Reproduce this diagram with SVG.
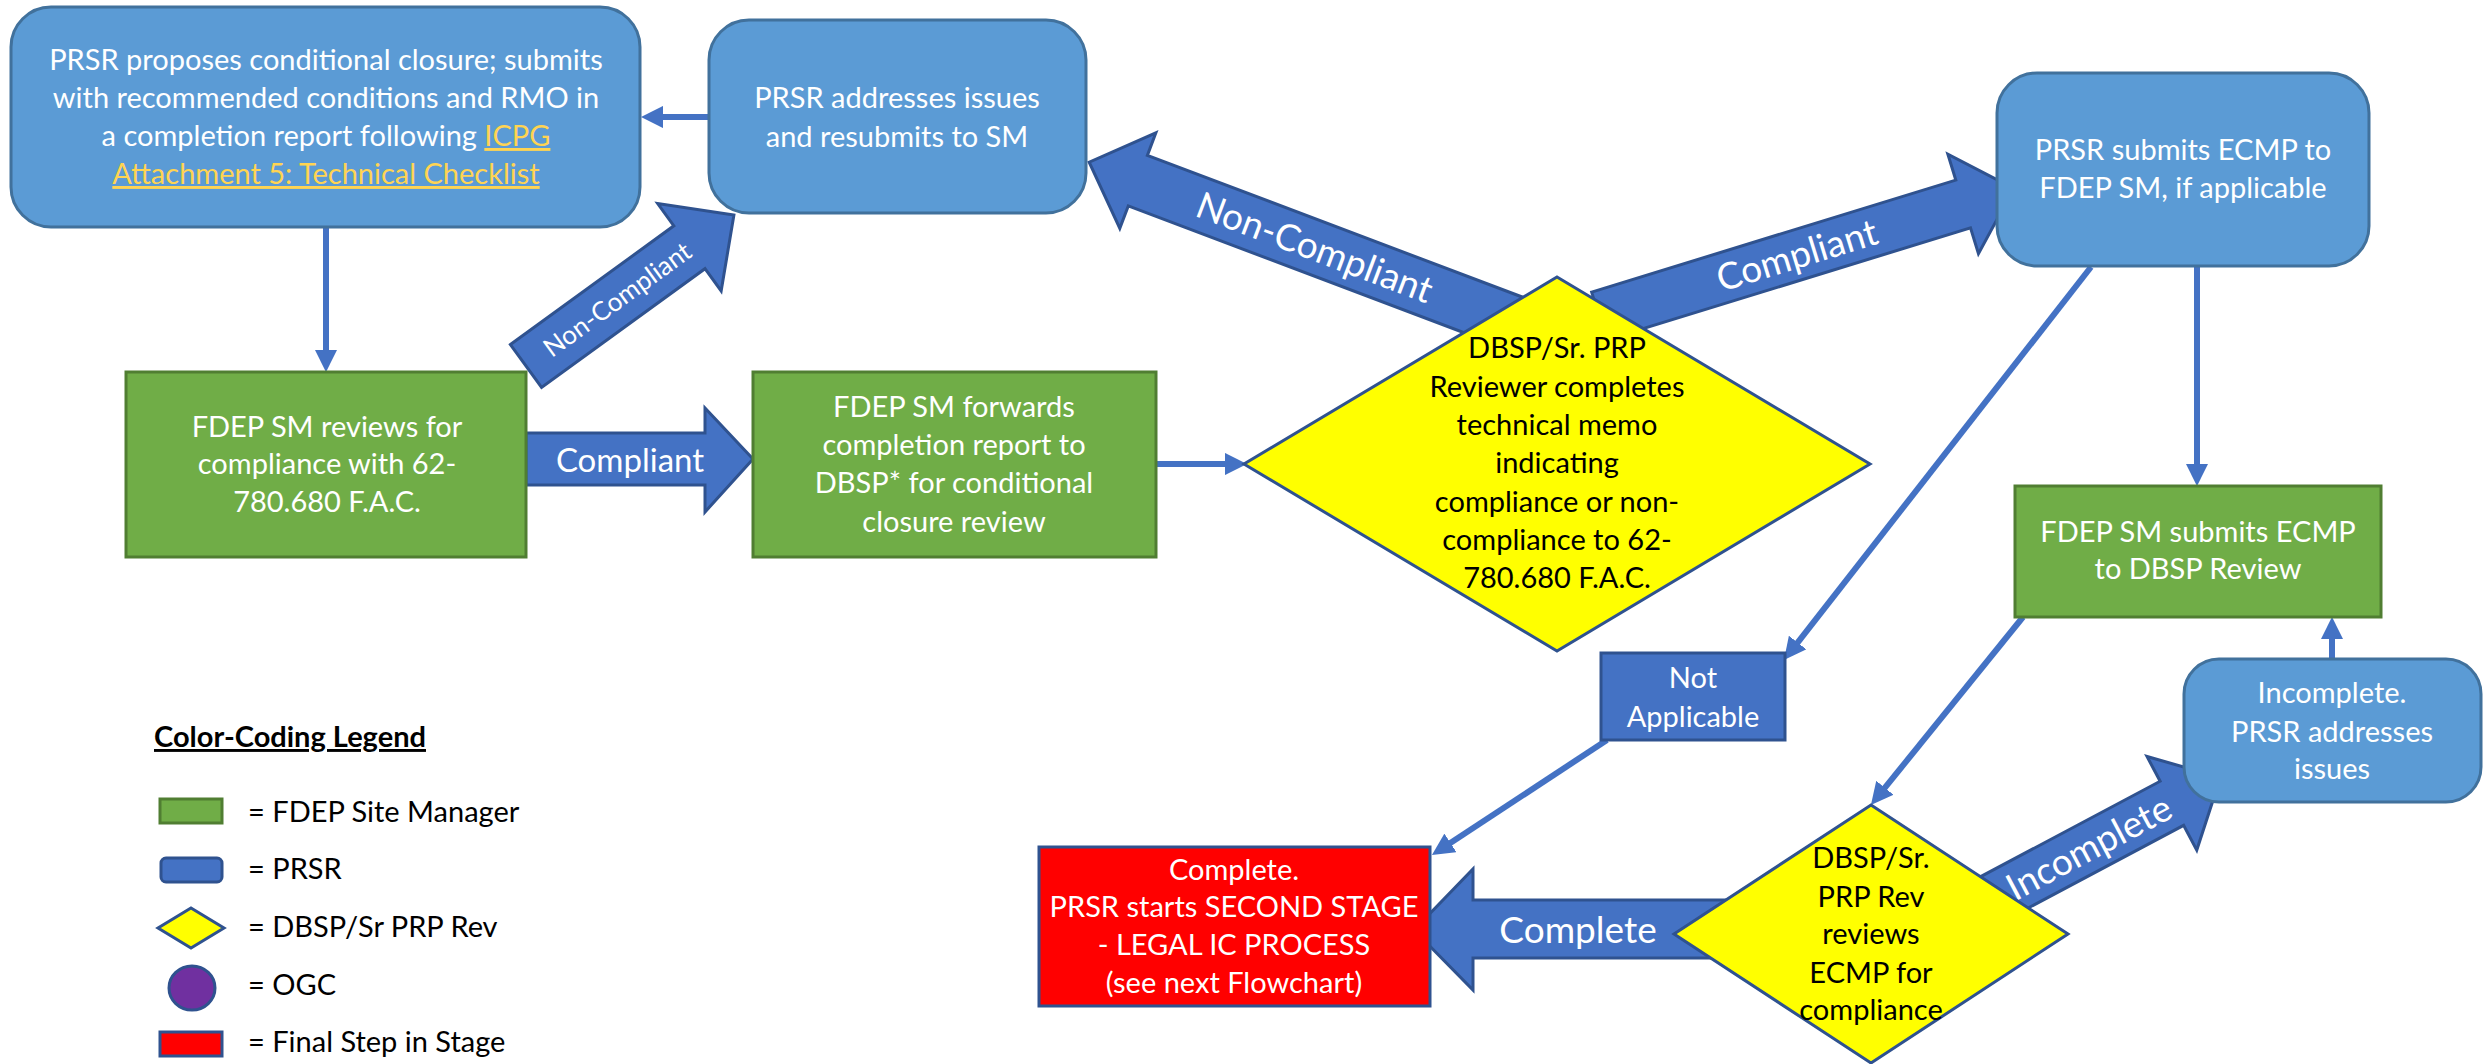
<svg xmlns="http://www.w3.org/2000/svg" width="2484" height="1064" viewBox="0 0 2484 1064">
<style>
.lb{fill:#5B9BD5;stroke:#41719C;stroke-width:3}
.gr{fill:#70AD47;stroke:#507E32;stroke-width:3}
.db{fill:#4472C4;stroke:#2F528F;stroke-width:3}
.ye{fill:#FFFF00;stroke:#2F528F;stroke-width:3}
.rd{fill:#FF0000;stroke:#2F528F;stroke-width:3}
.pu{fill:#7030A0;stroke:#2F528F;stroke-width:3}
.ln{fill:none;stroke:#4472C4;stroke-width:6;marker-end:url(#ah)}
text{font-family:Lato,"Open Sans","Liberation Sans",sans-serif;font-size:29px}
.w{fill:#FFFFFF;text-anchor:middle}
.k{fill:#000000;text-anchor:middle}
.lk{fill:#FFD452;text-decoration:underline}
.lbl{fill:#FFFFFF;text-anchor:middle}
.lg{fill:#000000}
</style>
<defs>
<marker id="ah" viewBox="0 0 10 10" markerWidth="3.7" markerHeight="3.7" refX="5" refY="5" orient="auto" markerUnits="strokeWidth">
<path d="M0,0 L10,5 L0,10 Z" fill="#4472C4"/>
</marker>
</defs>

<g id="connectors">
<path class="ln" d="M709,117 L652,117"/>
<path class="ln" d="M326,227 L326,361"/>
<path class="ln" d="M1156,464 L1236,464"/>
<path class="ln" d="M2091,267 L1790.8,651.3"/>
<path class="ln" d="M2197,266 L2197,475"/>
<path class="ln" d="M1607,740 L1441.2,849"/>
<path class="ln" d="M2023,617 L1877.9,796.4"/>
<path class="ln" d="M2332,659 L2332,628"/>
<g id="arrow-nc-small" transform="translate(526,366) rotate(-36)">
<polygon class="db" points="0,-26.5 202,-26.5 202,-54 257,0 202,54 202,26.5 0,26.5"/>
<text class="lbl" x="113" y="9" style="font-size:26px">Non-Compliant</text>
</g>
<g id="arrow-nc-big" transform="translate(1512,322) rotate(20.7)">
<polygon class="db" points="0,-27 -400,-27 -400,-51 -452,0 -400,51 -400,27 0,27"/>
<text class="lbl" x="-211" y="13" style="font-size:37px">Non-Compliant</text>
</g>
<g id="arrow-c-top" transform="translate(1599,316) rotate(-17.1)">
<polygon class="db" points="0,-25 381,-25 381,-52 434,0 381,52 381,25 0,25"/>
<text class="lbl" x="207" y="13" style="font-size:37px">Compliant</text>
</g>
<g id="arrow-c-mid">
<polygon class="db" points="526,433 705,433 705,408 753,459 705,512 705,485 526,485"/>
<text class="lbl" x="630" y="472" style="font-size:33px">Compliant</text>
</g>
<g id="arrow-complete">
<polygon class="db" points="1740,900 1473,900 1473,869 1414,930 1473,990 1473,958 1740,958"/>
<text class="lbl" x="1578" y="943" style="font-size:37px">Complete</text>
</g>
<g id="arrow-incomplete" transform="translate(1990,900) rotate(-28)">
<polygon class="db" points="0,-25 206,-25 206,-53 261,0 206,53 206,25 0,25"/>
<text class="lbl" x="112" y="13" style="font-size:37px">Incomplete</text>
</g>
</g>

<g id="box1">
<rect class="lb" x="11" y="7" width="629" height="220" rx="40"/>
<text class="w"><tspan x="326" y="70">PRSR proposes conditional closure; submits</tspan><tspan x="326" y="108">with recommended conditions and RMO in</tspan><tspan x="326" y="146">a completion report following <tspan class="lk">ICPG</tspan></tspan><tspan x="326" y="184" class="lk">Attachment 5: Technical Checklist</tspan></text>
</g>
<g id="box2">
<rect class="lb" x="709" y="20" width="377" height="193" rx="40"/>
<text class="w"><tspan x="897" y="108">PRSR addresses issues</tspan><tspan x="897" y="147">and resubmits to SM</tspan></text>
</g>
<g id="box3">
<rect class="lb" x="1997" y="73" width="372" height="193" rx="40"/>
<text class="w"><tspan x="2183" y="160">PRSR submits ECMP to</tspan><tspan x="2183" y="198">FDEP SM, if applicable</tspan></text>
</g>
<g id="green1">
<rect class="gr" x="126" y="372" width="400" height="185"/>
<text class="w"><tspan x="327" y="437">FDEP SM reviews for</tspan><tspan x="327" y="474">compliance with 62-</tspan><tspan x="327" y="512">780.680 F.A.C.</tspan></text>
</g>
<g id="green2">
<rect class="gr" x="753" y="372" width="403" height="185"/>
<text class="w"><tspan x="954" y="417">FDEP SM forwards</tspan><tspan x="954" y="455">completion report to</tspan><tspan x="954" y="493">DBSP* for conditional</tspan><tspan x="954" y="532">closure review</tspan></text>
</g>
<g id="diamond1">
<polygon class="ye" points="1557,277 1870,464 1557,651 1244,464"/>
<text class="k"><tspan x="1557" y="358">DBSP/Sr. PRP</tspan><tspan x="1557" y="397">Reviewer completes</tspan><tspan x="1557" y="435">technical memo</tspan><tspan x="1557" y="473">indicating</tspan><tspan x="1557" y="512">compliance or non-</tspan><tspan x="1557" y="550">compliance to 62-</tspan><tspan x="1557" y="588">780.680 F.A.C.</tspan></text>
</g>
<g id="green3">
<rect class="gr" x="2015" y="486" width="366" height="131"/>
<text class="w"><tspan x="2198" y="542">FDEP SM submits ECMP</tspan><tspan x="2198" y="579">to DBSP Review</tspan></text>
</g>
<g id="incomplete">
<rect class="lb" x="2184" y="659" width="297" height="143" rx="35"/>
<text class="w"><tspan x="2332" y="703">Incomplete.</tspan><tspan x="2332" y="742">PRSR addresses</tspan><tspan x="2332" y="779">issues</tspan></text>
</g>
<g id="notapplicable">
<rect class="db" x="1601" y="653" width="184" height="87"/>
<text class="w"><tspan x="1693" y="688">Not</tspan><tspan x="1693" y="727">Applicable</tspan></text>
</g>
<g id="diamond2">
<polygon class="ye" points="1871,805 2068,934 1871,1063 1674,934"/>
<text class="k"><tspan x="1871" y="868">DBSP/Sr.</tspan><tspan x="1871" y="907">PRP Rev</tspan><tspan x="1871" y="944">reviews</tspan><tspan x="1871" y="983">ECMP for</tspan><tspan x="1871" y="1020">compliance</tspan></text>
</g>
<g id="final">
<rect class="rd" x="1039" y="847" width="391" height="159"/>
<text class="w"><tspan x="1234" y="880">Complete.</tspan><tspan x="1234" y="917">PRSR starts SECOND STAGE</tspan><tspan x="1234" y="955">- LEGAL IC PROCESS</tspan><tspan x="1234" y="993">(see next Flowchart)</tspan></text>
</g>

<g id="legend">
<text class="lg" x="154" y="747" style="font-weight:bold;text-decoration:underline">Color-Coding Legend</text>
<rect class="gr" x="160" y="799" width="62" height="24"/>
<text class="lg" x="248" y="822">= FDEP Site Manager</text>
<rect class="db" x="161" y="858" width="61" height="24" rx="5"/>
<text class="lg" x="248" y="879">= PRSR</text>
<polygon class="ye" points="191,908 224,928 191,948 158,928"/>
<text class="lg" x="248" y="937">= DBSP/Sr PRP Rev</text>
<ellipse class="pu" cx="192" cy="988" rx="23" ry="22"/>
<text class="lg" x="248" y="995">= OGC</text>
<rect class="rd" x="160" y="1032" width="62" height="24"/>
<text class="lg" x="248" y="1052">= Final Step in Stage</text>
</g>
</svg>
